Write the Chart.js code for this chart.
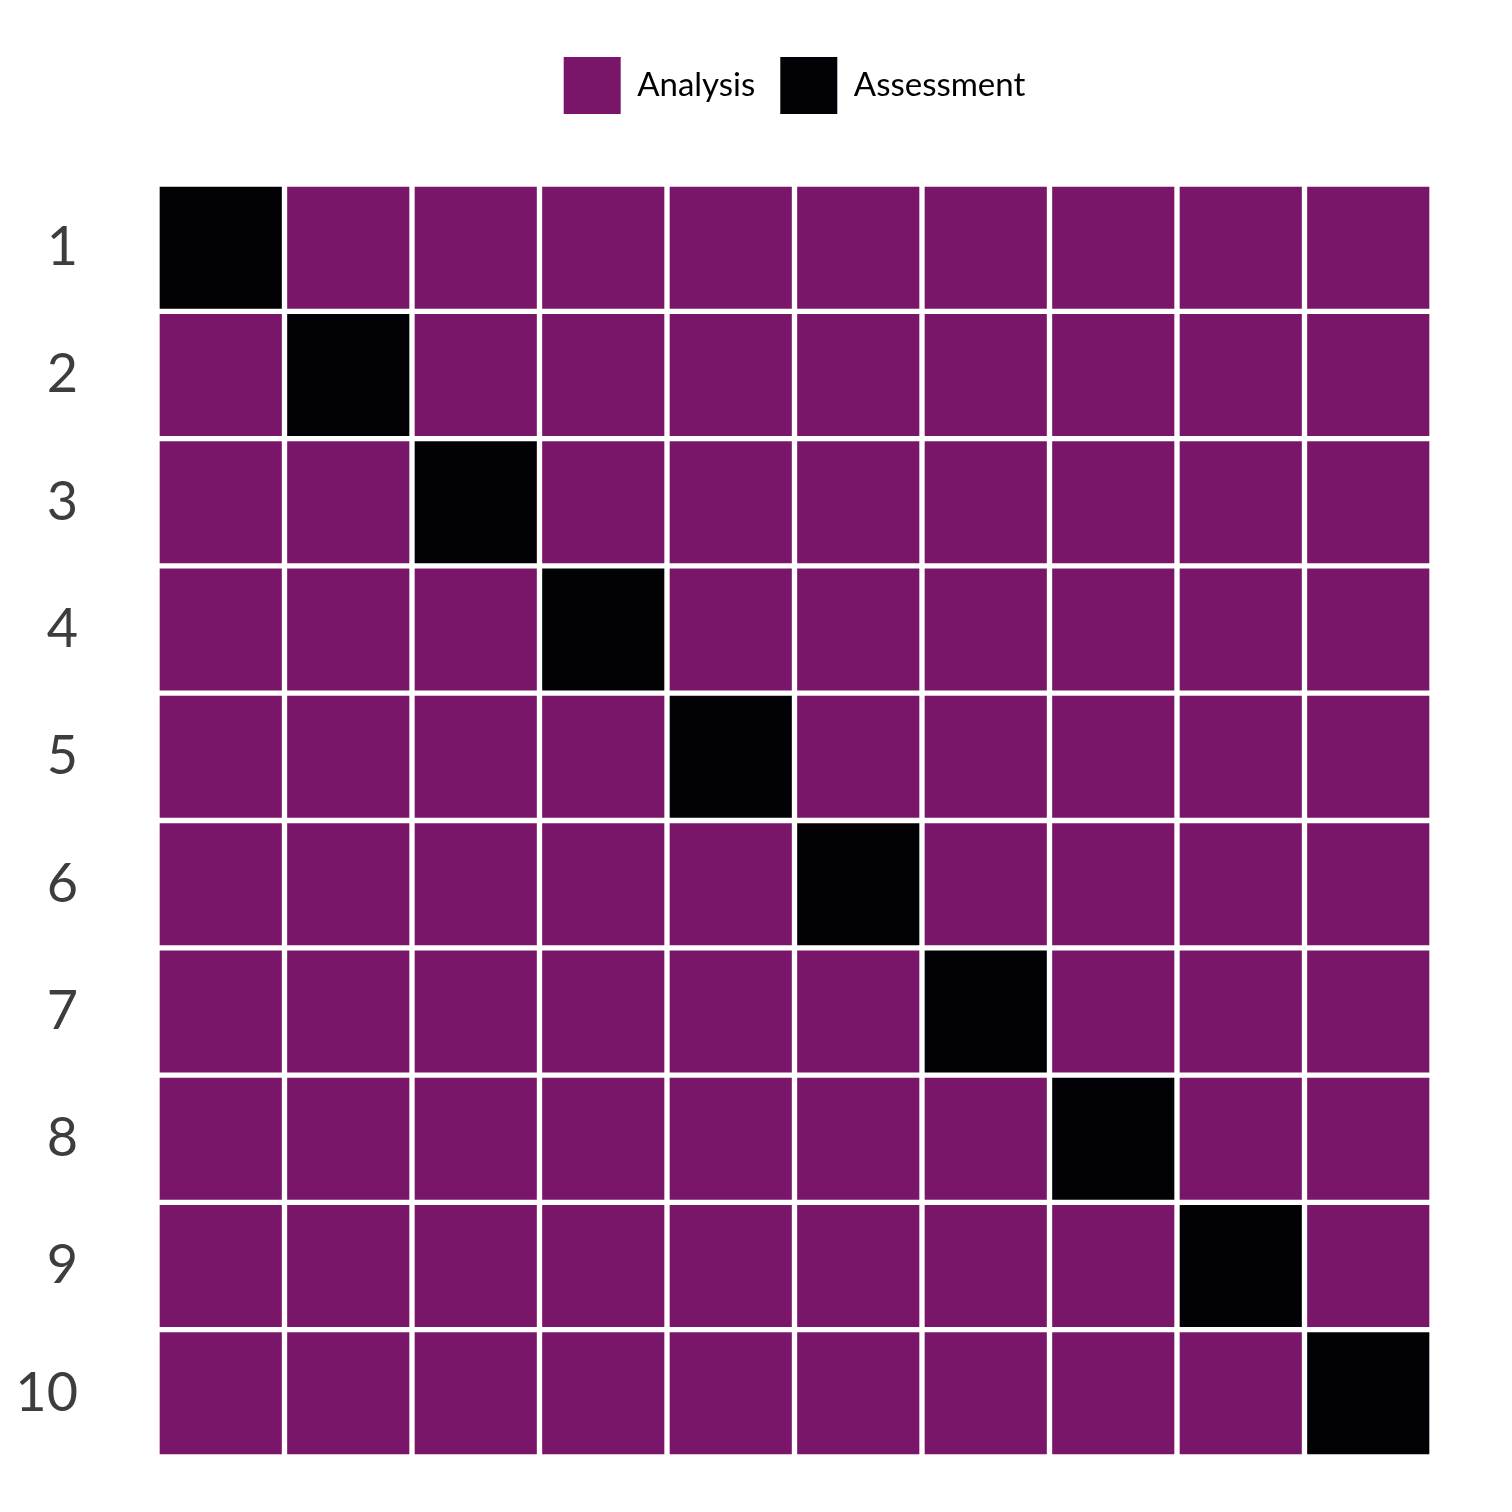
<!DOCTYPE html>
<html>
<head>
<meta charset="utf-8">
<script src="https://cdn.jsdelivr.net/npm/chart.js@4.4.1/dist/chart.umd.min.js"></script>
<style>
html,body{margin:0;padding:0;background:#fff;}
#wrap{width:1512px;height:1512px;}
</style>
</head>
<body>
<div id="wrap"><canvas id="c" width="1512" height="1512"></canvas></div>
<script>
// Row categories (y axis tick labels)
const rowLabels = ['1','2','3','4','5','6','7','8','9','10'];
// Column categories (x positions, unlabeled)
const colLabels = ['1','2','3','4','5','6','7','8','9','10'];
// Legend / category names
const kinds = ['Analysis','Assessment'];
const kindColors = ['#7a166a','#020105'];
// For each row, the column index (1-based) that is "Assessment"; all other cells are "Analysis"
const assessmentCol = [1,2,3,4,5,6,7,8,9,10];

const datasets = colLabels.map((col, ci) => ({
  label: 'col ' + col,
  data: rowLabels.map(() => 1),
  backgroundColor: rowLabels.map((r, ri) => kindColors[assessmentCol[ri] === ci + 1 ? 1 : 0]),
  borderColor: '#ffffff',
  borderWidth: 3,
  borderSkipped: false,
  barPercentage: 1,
  categoryPercentage: 1,
  stack: 's'
}));

// Extra space below the legend before the grid
const legendGap = {
  id: 'legendGap',
  afterInit(chart) {
    const lg = chart.legend;
    if (!lg) return;
    const orig = lg.fit.bind(lg);
    lg.fit = function () { orig(); this.height += 60; };
  }
};

new Chart(document.getElementById('c'), {
  type: 'bar',
  data: { labels: rowLabels, datasets },
  plugins: [legendGap],
  options: {
    indexAxis: 'y',
    responsive: false,
    animation: false,
    layout: { padding: { left: 10, right: 80, top: 32, bottom: 55 } },
    plugins: {
      tooltip: { enabled: false },
      legend: {
        position: 'top',
        fullSize: false,
        onClick: null,
        labels: {
          boxWidth: 57,
          boxHeight: 57,
          padding: 25,
          color: '#000000',
          font: { family: 'Lato', size: 33 },
          generateLabels: () => kinds.map((k, i) => ({
            text: k,
            fillStyle: kindColors[i],
            strokeStyle: kindColors[i],
            lineWidth: 0,
            hidden: false,
            datasetIndex: i
          }))
        }
      }
    },
    scales: {
      x: {
        type: 'linear',
        min: 0,
        max: colLabels.length,
        stacked: true,
        display: false
      },
      y: {
        stacked: true,
        offset: true,
        grid: { display: false },
        border: { display: false },
        afterFit: (scale) => {
          scale.width = 147;
          scale.paddingTop = 0;
          scale.paddingBottom = 0;
        },
        ticks: {
          color: '#3d3d3d',
          padding: 71,
          font: { family: 'Lato', size: 54 }
        }
      }
    }
  }
});
</script>
</body>
</html>
